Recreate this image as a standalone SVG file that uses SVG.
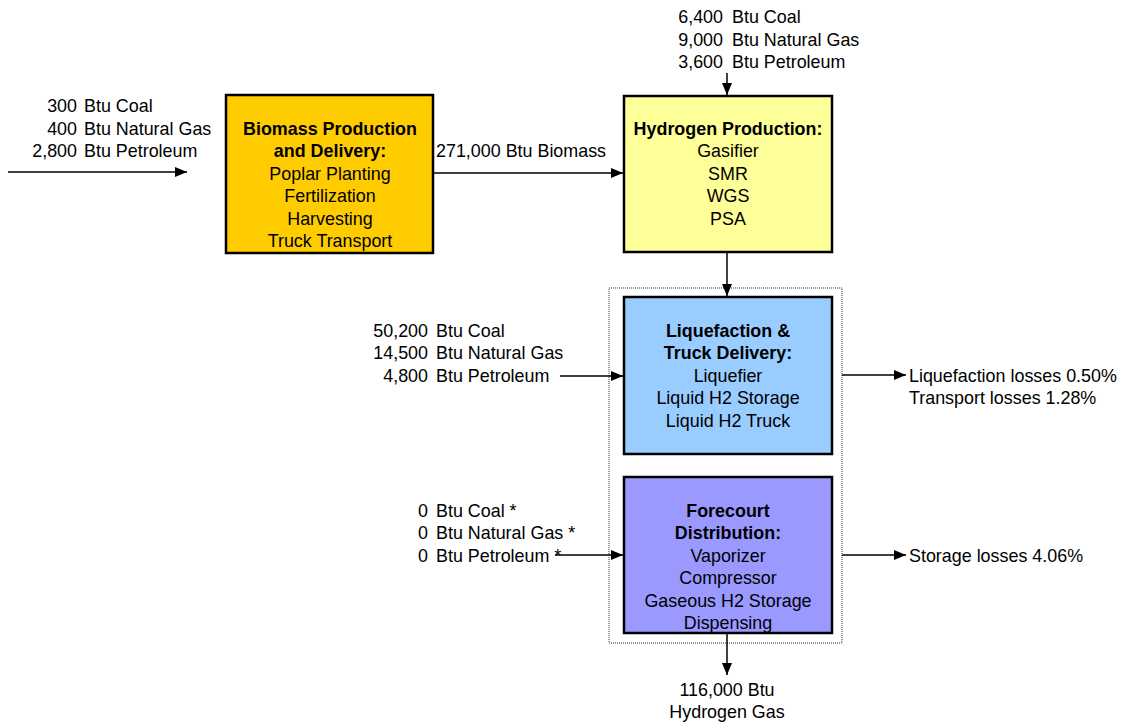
<svg xmlns="http://www.w3.org/2000/svg" width="1124" height="724" viewBox="0 0 1124 724">
<style>
text{font-family:"Liberation Sans",Arial,sans-serif;font-size:17.9px;fill:#000}
.b{font-weight:bold}
.c{text-anchor:middle}
.e{text-anchor:end}
.box{stroke:#000;stroke-width:2.5}
.ln{stroke:#000;stroke-width:1.5;fill:none}
</style>
<defs>
<marker id="ah" markerWidth="12" markerHeight="10" refX="12" refY="5" orient="auto" markerUnits="userSpaceOnUse">
<path d="M0,0 L12,5 L0,10 Z" fill="#000"/>
</marker>
</defs>
<rect x="0" y="0" width="1124" height="724" fill="#fff"/>
<rect id="group-box" x="609" y="288" width="233" height="355" fill="none" stroke="#333" stroke-width="1" stroke-dasharray="1,1"/>
<g id="connectors">
<line class="ln" x1="8" y1="172" x2="187" y2="172" marker-end="url(#ah)"/>
<line class="ln" x1="433" y1="173" x2="623" y2="173" marker-end="url(#ah)"/>
<line class="ln" x1="727" y1="73" x2="727" y2="95" marker-end="url(#ah)"/>
<line class="ln" x1="727" y1="252" x2="727" y2="296" marker-end="url(#ah)"/>
<line class="ln" x1="560" y1="376" x2="623" y2="376" marker-end="url(#ah)"/>
<line class="ln" x1="555" y1="555" x2="623" y2="555" marker-end="url(#ah)"/>
<line class="ln" x1="842" y1="375" x2="906" y2="375" marker-end="url(#ah)"/>
<line class="ln" x1="842" y1="555" x2="906" y2="555" marker-end="url(#ah)"/>
<line class="ln" x1="727" y1="633" x2="727" y2="675" marker-end="url(#ah)"/>
</g>
<g id="biomass">
<rect class="box" x="226" y="95" width="207" height="158" fill="#FFCC00"/>
<text class="c b" x="330" y="135">Biomass Production</text>
<text class="c b" x="330" y="157">and Delivery:</text>
<text class="c" x="330" y="180">Poplar Planting</text>
<text class="c" x="330" y="202">Fertilization</text>
<text class="c" x="330" y="225">Harvesting</text>
<text class="c" x="330" y="247">Truck Transport</text>
</g>
<g id="hydrogen">
<rect class="box" x="624" y="96" width="208" height="156" fill="#FFFF99"/>
<text class="c b" x="728" y="135">Hydrogen Production:</text>
<text class="c" x="728" y="157">Gasifier</text>
<text class="c" x="728" y="180">SMR</text>
<text class="c" x="728" y="202">WGS</text>
<text class="c" x="728" y="225">PSA</text>
</g>
<g id="liquefaction">
<rect class="box" x="624" y="297" width="208" height="157" fill="#99CCFF"/>
<text class="c b" x="728" y="337">Liquefaction &amp;</text>
<text class="c b" x="728" y="359">Truck Delivery:</text>
<text class="c" x="728" y="382">Liquefier</text>
<text class="c" x="728" y="404">Liquid H2 Storage</text>
<text class="c" x="728" y="427">Liquid H2 Truck</text>
</g>
<g id="forecourt">
<rect class="box" x="624" y="477" width="208" height="156" fill="#9999FF"/>
<text class="c b" x="728" y="517">Forecourt</text>
<text class="c b" x="728" y="539">Distribution:</text>
<text class="c" x="728" y="562">Vaporizer</text>
<text class="c" x="728" y="584">Compressor</text>
<text class="c" x="728" y="607">Gaseous H2 Storage</text>
<text class="c" x="728" y="629">Dispensing</text>
</g>
<g id="labels">
<text class="e" x="77" y="112">300</text><text x="84" y="112">Btu Coal</text>
<text class="e" x="77" y="135">400</text><text x="84" y="135">Btu Natural Gas</text>
<text class="e" x="77" y="157">2,800</text><text x="84" y="157">Btu Petroleum</text>
<text x="436" y="157">271,000 Btu Biomass</text>
<text class="e" x="723" y="23">6,400</text><text x="732" y="23">Btu Coal</text>
<text class="e" x="723" y="46">9,000</text><text x="732" y="46">Btu Natural Gas</text>
<text class="e" x="723" y="68">3,600</text><text x="732" y="68">Btu Petroleum</text>
<text class="e" x="428" y="337">50,200</text><text x="436" y="337">Btu Coal</text>
<text class="e" x="428" y="359">14,500</text><text x="436" y="359">Btu Natural Gas</text>
<text class="e" x="428" y="382">4,800</text><text x="436" y="382">Btu Petroleum</text>
<text class="e" x="428" y="517">0</text><text x="436" y="517">Btu Coal *</text>
<text class="e" x="428" y="539">0</text><text x="436" y="539">Btu Natural Gas *</text>
<text class="e" x="428" y="562">0</text><text x="436" y="562">Btu Petroleum *</text>
<text x="909" y="382">Liquefaction losses 0.50%</text>
<text x="909" y="404">Transport losses 1.28%</text>
<text x="909" y="562">Storage losses 4.06%</text>
<text class="c" x="727" y="696">116,000 Btu</text>
<text class="c" x="727" y="718">Hydrogen Gas</text>
</g>
</svg>
